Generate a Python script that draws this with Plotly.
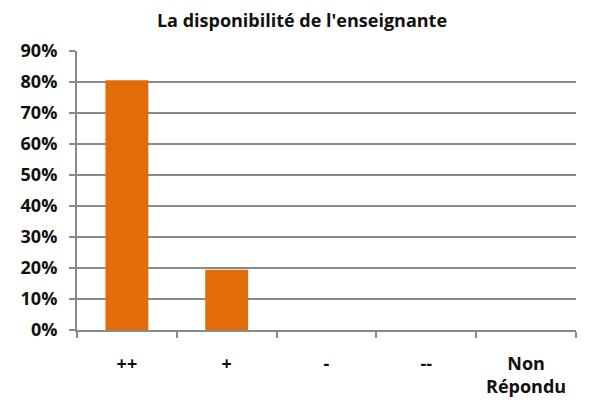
import plotly.graph_objects as go

categories = ["++", "+", "-", "--", "Non<br>Répondu"]
values = [0.806, 0.194, 0, 0, 0]
title_text = "La disponibilité de l'enseignante"

fig = go.Figure(go.Bar(x=categories, y=values, marker=dict(color="#E36C0A", line=dict(width=0))))

fig.update_layout(
    width=588, height=395,
    margin=dict(l=69, r=20, t=43, b=73),
    paper_bgcolor="white", plot_bgcolor="white",
    bargap=0.57,
    showlegend=False,
    title=dict(text=title_text, x=0.5, xanchor="center", y=1 - 13 / 395, yanchor="middle",
               font=dict(family="Open Sans", size=18, color="#111", weight="bold")),
    font=dict(family="Open Sans", color="#111"),
)
fig.update_yaxes(range=[0, 0.9], dtick=0.1, tickformat=".0%",
                 showgrid=True, gridcolor="#8a8a8a", gridwidth=2,
                 showline=True, linecolor="#8a8a8a", linewidth=2,
                 ticks="outside", ticklen=6, tickcolor="#8a8a8a", tickwidth=2,
                 ticklabelstandoff=8, automargin=False,
                 tickfont=dict(family="Open Sans", size=18, color="#111", weight="bold"),
                 zeroline=False)
fig.update_xaxes(showline=True, linecolor="#8a8a8a", linewidth=2,
                 ticks="outside", tickson="boundaries", ticklen=6, tickcolor="#8a8a8a", tickwidth=2,
                 ticklabelstandoff=16, automargin=False,
                 tickfont=dict(family="Open Sans", size=18, color="#111", weight="bold"),
                 showgrid=False)

fig.write_html("out.html")
